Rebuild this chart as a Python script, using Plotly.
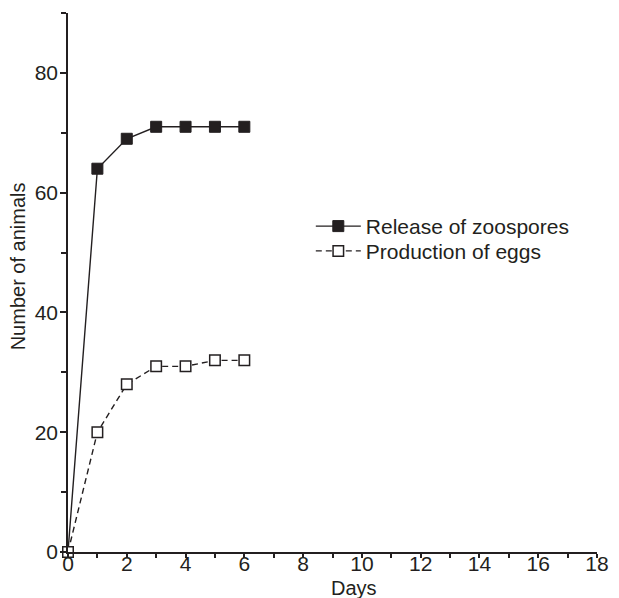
import plotly.graph_objects as go

days = [0, 1, 2, 3, 4, 5, 6]
zoospores = [0, 64, 69, 71, 71, 71, 71]
eggs = [0, 20, 28, 31, 31, 32, 32]

x_ticks = list(range(0, 19, 2))
y_ticks = [0, 20, 40, 60, 80]

FONT = "Liberation Sans, Arial, Helvetica, sans-serif"
INK = "#231f20"
TICK_FS = 21
LEG_FS = 21
TITLE_FS = 20

fig = go.Figure()
fig.add_trace(go.Scatter(
    x=days, y=zoospores, mode="lines+markers", name="Release of zoospores",
    line=dict(color=INK, width=1.4),
    marker=dict(symbol="square", size=11, color=INK, line=dict(color=INK, width=1)),
    cliponaxis=False, legend="legend",
))
fig.add_trace(go.Scatter(
    x=days, y=eggs, mode="lines+markers", name="Production of eggs",
    line=dict(color=INK, width=1.4, dash="6px,4px"),
    marker=dict(symbol="square", size=10.5, color="white", line=dict(color=INK, width=1.5)),
    cliponaxis=False, legend="legend2",
))

axis_common = dict(
    showgrid=False, zeroline=False, showline=True, linecolor=INK, linewidth=1.5,
    ticks="outside", tickwidth=1.5, tickcolor=INK,
    tickfont=dict(family=FONT, size=TICK_FS, color=INK),
    automargin=False,
)

leg_common = dict(xanchor="left", yanchor="middle", bgcolor="rgba(0,0,0,0)",
                  font=dict(family=FONT, size=LEG_FS, color=INK), itemwidth=45)

fig.update_layout(
    width=619, height=598,
    margin=dict(l=68, r=22, t=13, b=46),
    paper_bgcolor="white", plot_bgcolor="white",
    font=dict(family=FONT, size=TICK_FS, color=INK),
    showlegend=True,
    legend=dict(x=0.459, y=0.604, **leg_common),
    legend2=dict(x=0.459, y=0.558, **leg_common),
    xaxis=dict(range=[0, 18], tickvals=x_ticks, ticklen=4,
               minor=dict(dtick=1, ticks="outside", ticklen=4, tickwidth=1.5, tickcolor=INK),
               ticklabelstandoff=-12, **axis_common),
    yaxis=dict(range=[0, 90], tickvals=y_ticks, ticklen=6,
               minor=dict(dtick=10, tick0=0, ticks="outside", ticklen=5, tickwidth=1.5, tickcolor=INK),
               ticklabelstandoff=-2, **axis_common),
    annotations=[
        dict(text="Days", xref="paper", yref="paper", x=0.541, y=-0.0665,
             xanchor="center", yanchor="middle", showarrow=False,
             font=dict(family=FONT, size=TITLE_FS, color=INK)),
        dict(text="Number of animals", xref="paper", yref="paper", x=-0.0945, y=0.53,
             xanchor="center", yanchor="middle", showarrow=False, textangle=-90,
             font=dict(family=FONT, size=TITLE_FS, color=INK)),
    ],
)

fig.write_html("out.html")
